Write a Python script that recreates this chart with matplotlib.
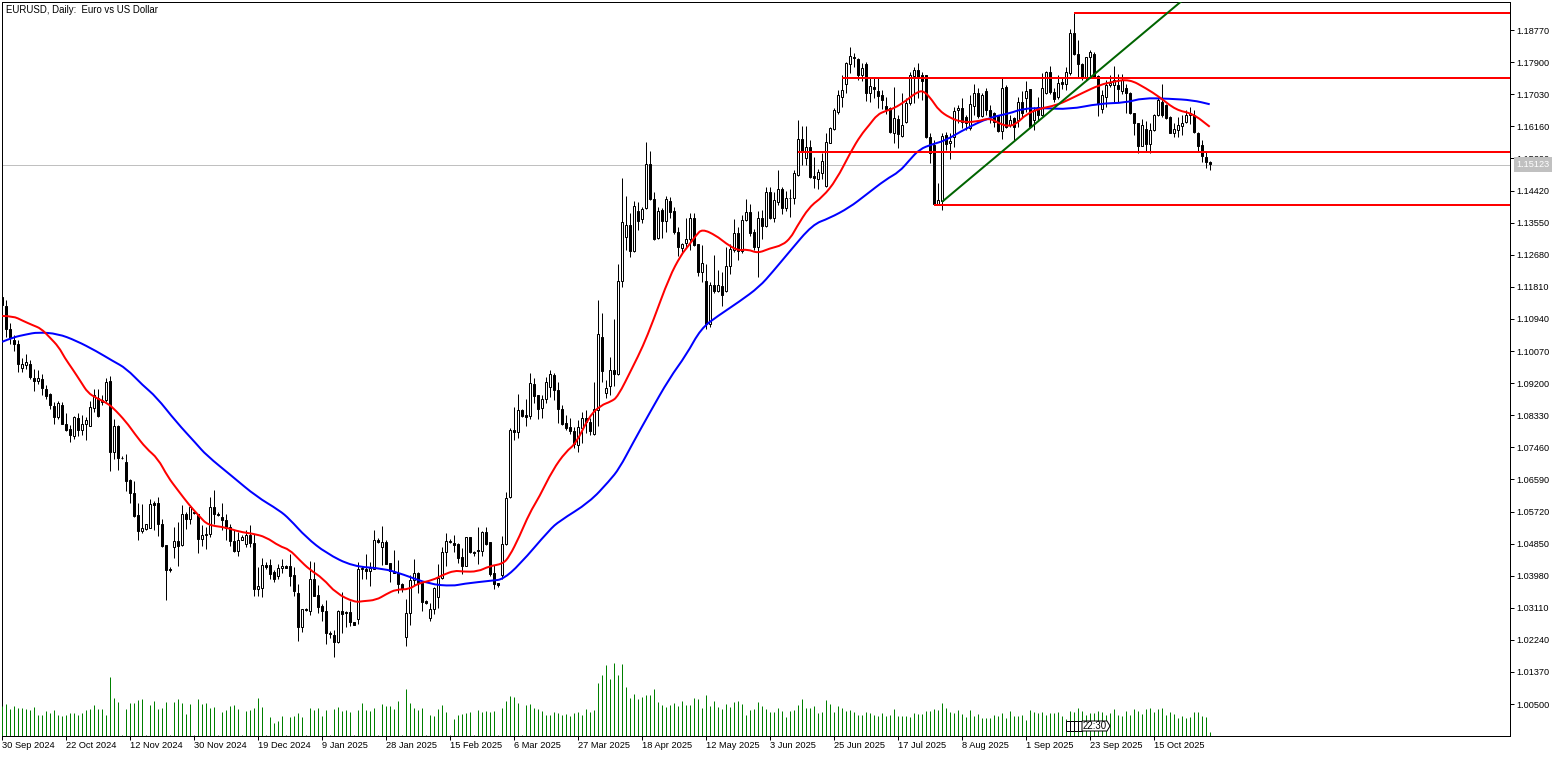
"""
Daily EURUSD candle chart with two moving averages, levels and tick volume.
"""

import numpy as np
import matplotlib
matplotlib.use('Agg')
import matplotlib.pyplot as plt
from matplotlib.patches import PathPatch, Polygon, Rectangle
from matplotlib.path import Path

# Prices are kept in 1/10000 units
opens = [
    11154,11129,11066,11038,11027,10961,10969,10973,10935,10926,
    10931,10904,10890,10857,10828,10860,10810,10795,10777,10825,
    10792,10810,10804,10853,10881,10870,10874,10925,10734,10803,
    10716,10705,10657,10621,10562,10519,10524,10528,10594,10594,
    10538,10480,10416,10476,10491,10481,10564,10552,10571,10565,
    10498,10507,10512,10583,10566,10556,10550,10530,10491,10464,
    10496,10485,10508,10488,10362,10366,10428,10426,10407,10398,
    10420,10425,10424,10399,10352,10260,10307,10301,10389,10345,
    10316,10302,10244,10237,10217,10302,10300,10300,10273,10280,
    10415,10417,10412,10417,10495,10477,10490,10432,10408,10404,
    10376,10231,10296,10385,10404,10379,10329,10282,10307,10339,
    10391,10461,10489,10486,10484,10449,10425,10504,10462,10468,
    10464,10517,10489,10404,10377,10400,10483,10610,10793,10787,
    10847,10834,10832,10918,10887,10852,10877,10910,10942,10901,
    10849,10811,10801,10790,10751,10798,10825,10816,10782,10847,
    11044,10892,10913,10955,10944,11196,11315,11350,11279,11386,
    11364,11395,11513,11418,11314,11389,11360,11413,11386,11329,
    11287,11301,11312,11367,11296,11220,11197,11079,11186,11170,
    11183,11170,11237,11281,11326,11279,11362,11384,11329,11290,
    11367,11346,11437,11368,11412,11445,11395,11421,11422,11484,
    11581,11530,11560,11481,11473,11489,11454,11570,11608,11654,
    11695,11730,11784,11803,11798,11755,11784,11706,11722,11711,
    11700,11671,11665,11597,11635,11589,11627,11679,11752,11768,
    11755,11755,11587,11565,11405,11413,11592,11570,11587,11660,
    11665,11641,11611,11671,11706,11644,11711,11660,11652,11646,
    11603,11722,11619,11638,11633,11681,11692,11717,11633,11668,
    11646,11707,11764,11708,11696,11736,11732,11761,11868,11811,
    11786,11746,11803,11812,11752,11664,11696,11728,11728,11728,
    11712,11719,11707,11651,11624,11563,11610,11568,11606,11646,
    11682,11673,11642,11598,11607,11616,11628,11646,11646,11599,
    11565,11533,11520,
]
closes = [
    11131,11068,11041,11027,10973,10971,10977,10937,10926,10935,
    10907,10885,10861,10828,10865,10810,10792,10779,10828,10792,
    10810,10819,10854,10887,10831,10874,10924,10734,10803,10717,
    10718,10655,10621,10559,10519,10526,10539,10592,10590,10538,
    10479,10413,10413,10491,10479,10564,10552,10583,10569,10498,
    10507,10512,10583,10564,10563,10549,10526,10492,10464,10496,
    10502,10507,10487,10363,10369,10428,10422,10402,10388,10420,
    10425,10420,10398,10357,10259,10307,10304,10389,10344,10314,
    10301,10244,10240,10217,10302,10295,10296,10273,10265,10416,
    10419,10412,10418,10494,10489,10489,10430,10410,10406,10375,
    10361,10296,10386,10404,10379,10328,10325,10307,10364,10391,
    10462,10491,10491,10482,10447,10425,10502,10461,10459,10464,
    10517,10484,10402,10375,10374,10484,10609,10793,10787,10847,
    10831,10829,10920,10886,10851,10876,10922,10944,10901,10849,
    10809,10799,10790,10755,10800,10825,10816,10790,10849,11053,
    10954,10908,10955,10946,11196,11358,11350,11279,11399,11360,
    11391,11513,11419,11311,11386,11360,11418,11383,11329,11288,
    11296,11312,11367,11294,11222,11247,11080,11185,11170,11186,
    11160,11237,11284,11326,11279,11362,11383,11326,11288,11367,
    11346,11437,11369,11416,11445,11394,11421,11422,11489,11581,
    11546,11560,11478,11476,11492,11522,11573,11611,11660,11700,
    11714,11787,11806,11801,11755,11774,11706,11725,11717,11698,
    11687,11662,11600,11638,11595,11619,11679,11755,11768,11747,
    11738,11587,11543,11405,11416,11589,11568,11576,11657,11665,
    11627,11625,11676,11706,11644,11700,11660,11644,11627,11603,
    11720,11614,11633,11614,11681,11652,11711,11614,11660,11646,
    11719,11764,11708,11691,11734,11732,11764,11868,11813,11786,
    11746,11803,11818,11750,11678,11700,11728,11734,11741,11716,
    11741,11707,11653,11624,11563,11619,11568,11607,11648,11687,
    11646,11640,11598,11610,11620,11624,11646,11651,11601,11563,
    11535,11520,11513,
]
highs = [
    11156,11145,11082,11050,11036,10987,10998,10982,10957,10955,
    10946,10914,10892,10869,10872,10869,10838,10806,10830,10838,
    10833,10828,10872,10905,10905,10887,10935,10939,10824,10806,
    10722,10727,10661,10654,10595,10592,10539,10607,10601,10610,
    10553,10481,10422,10529,10544,10589,10571,10589,10574,10566,
    10535,10529,10612,10630,10571,10594,10566,10539,10521,10517,
    10508,10523,10535,10512,10422,10447,10435,10442,10413,10429,
    10444,10426,10456,10422,10375,10307,10310,10439,10436,10373,
    10320,10332,10248,10251,10305,10353,10301,10329,10273,10434,
    10423,10457,10436,10522,10499,10533,10495,10433,10468,10441,
    10377,10334,10401,10442,10407,10382,10332,10323,10368,10430,
    10477,10515,10497,10508,10486,10472,10504,10504,10466,10531,
    10520,10529,10490,10427,10378,10506,10626,10798,10856,10891,
    10850,10876,10947,10933,10888,10888,10936,10956,10947,10924,
    10861,10834,10825,10802,10820,10843,10847,10825,10924,11145,
    11109,10928,10992,11095,11242,11475,11427,11380,11414,11410,
    11398,11573,11548,11439,11398,11394,11427,11425,11398,11344,
    11299,11367,11382,11380,11297,11294,11242,11195,11267,11226,
    11220,11290,11296,11365,11344,11376,11418,11405,11339,11386,
    11389,11452,11452,11439,11498,11452,11441,11445,11499,11633,
    11617,11617,11579,11533,11500,11543,11597,11614,11665,11714,
    11755,11790,11831,11814,11801,11787,11790,11747,11747,11749,
    11714,11695,11668,11722,11646,11706,11692,11763,11776,11787,
    11763,11755,11597,11579,11462,11597,11600,11597,11668,11673,
    11692,11646,11700,11730,11720,11706,11720,11673,11654,11646,
    11747,11728,11646,11641,11695,11711,11738,11717,11668,11695,
    11761,11766,11779,11719,11755,11746,11777,11881,11922,11850,
    11788,11803,11822,11818,11755,11714,11743,11755,11779,11759,
    11759,11732,11709,11653,11625,11637,11631,11625,11649,11696,
    11730,11678,11644,11625,11642,11646,11660,11669,11660,11601,
    11578,11547,11522,
]
lows = [
    11129,11045,11027,11007,10950,10950,10957,10932,10899,10919,
    10887,10878,10851,10810,10822,10809,10791,10760,10768,10776,
    10779,10765,10804,10842,10829,10860,10869,10682,10713,10684,
    10713,10628,10594,10556,10494,10514,10523,10526,10521,10505,
    10476,10333,10407,10447,10424,10479,10524,10539,10566,10460,
    10478,10471,10503,10539,10559,10521,10496,10479,10463,10452,
    10494,10476,10476,10343,10343,10341,10417,10390,10381,10390,
    10404,10418,10370,10343,10221,10246,10302,10292,10342,10296,
    10275,10212,10230,10177,10215,10242,10260,10263,10264,10266,
    10388,10388,10370,10415,10486,10427,10429,10382,10404,10350,
    10355,10208,10264,10373,10350,10301,10321,10276,10294,10311,
    10388,10423,10486,10461,10432,10402,10423,10459,10452,10430,
    10452,10480,10397,10361,10368,10388,10481,10609,10766,10770,
    10829,10804,10823,10865,10822,10826,10865,10883,10874,10813,
    10807,10793,10781,10743,10732,10757,10784,10779,10779,10804,
    10924,10879,10888,10912,10942,11181,11281,11263,11276,11335,
    11355,11392,11416,11308,11311,11314,11329,11369,11324,11264,
    11273,11288,11281,11292,11210,11195,11067,11073,11163,11166,
    11130,11168,11216,11276,11255,11273,11360,11319,11281,11208,
    11312,11344,11364,11357,11403,11378,11386,11371,11405,11481,
    11511,11511,11476,11448,11446,11473,11451,11570,11606,11649,
    11668,11706,11760,11776,11741,11738,11684,11681,11692,11665,
    11662,11649,11597,11570,11557,11587,11625,11673,11679,11692,
    11687,11584,11516,11402,11405,11389,11552,11527,11559,11625,
    11611,11606,11606,11646,11638,11641,11646,11625,11614,11600,
    11581,11611,11614,11579,11614,11641,11654,11611,11606,11633,
    11644,11705,11705,11682,11691,11716,11714,11755,11809,11750,
    11741,11741,11750,11746,11644,11651,11669,11723,11682,11682,
    11705,11651,11649,11592,11544,11562,11547,11544,11603,11644,
    11642,11637,11597,11586,11588,11592,11625,11622,11598,11547,
    11520,11503,11497,
]
volumes = [
    30,32,27,30,28,28,27,26,29,21,21,
    25,23,26,21,20,21,23,23,21,23,
    26,27,31,27,27,21,59,38,34,1,
    27,33,33,36,37,1,31,35,27,28,
    34,1,34,37,33,22,32,1,37,32,
    33,28,29,1,24,26,30,31,27,1,
    25,26,28,38,29,1,19,13,15,20,
    1,19,20,23,19,1,28,26,28,20,
    26,1,27,29,25,26,24,1,26,33,
    26,25,28,1,32,30,30,27,35,1,
    47,33,28,26,28,1,21,20,27,31,
    24,1,17,21,22,23,24,1,26,24,
    25,24,25,1,28,35,40,39,33,1,
    31,32,28,27,25,21,21,24,23,21,
    22,20,23,24,21,27,24,26,53,61,
    71,57,73,61,72,49,38,42,37,39,
    41,41,47,34,31,29,31,33,30,35,
    31,31,38,37,28,41,30,35,29,27,
    32,29,34,35,32,21,26,27,34,30,
    27,24,24,28,25,19,25,26,31,37,
    28,28,30,23,24,36,32,24,30,28,
    25,26,24,21,21,24,23,21,20,23,
    20,21,27,20,20,20,19,23,22,22,
    25,25,27,26,33,28,24,23,26,22,
    19,26,20,22,18,18,18,21,20,23,
    18,25,20,20,21,16,26,24,23,24,
    21,23,23,24,20,17,25,24,28,25,
    21,23,23,25,24,21,23,27,21,20,
    25,21,27,25,22,27,28,24,27,28,
    21,24,22,18,20,18,19,24,24,20,
    19,4,
]

# Moving averages read at the bars where the curve bends
fast_ma_bars = [
    0.1,2.8,5.25,7.75,9.8,11.9,14.25,15.7,17.75,19.8,
    21.5,23.6,26.1,27.75,31.1,33.2,36.1,39,41.5,44,
    46.9,49.4,51.5,56,59.4,62.75,66,69.4,71.9,74.4,
    76.9,80.25,83.6,88.2,90.25,93.6,96.1,98.6,101.9,104,
    107.75,110.25,113.2,115.25,119,121.9,125.25,126.9,129.4,131.9,
    134.4,137.75,141,143.6,146.9,149.8,152.3,154,157.75,160.25,
    162.75,166.9,169.8,171.5,173.6,175.1,178.6,181,184,186.5,
    189,191.9,195.2,197.3,198.6,201.9,205.25,208.6,212.25,214.75,
    216.9,218.9,221,223.1,226,228.9,230.6,232.6,234.25,236.9,
    239.8,243.6,246.9,249.4,251.5,253.6,256.1,259.4,263.6,266.9,
    270.25,274.4,277.75,281.9,286.1,289.4,293.6,297.75,302,
]
fast_ma = [
    11102,11102,11089,11077,11068,11045,11018,10989,10957,10923,
    10894,10880,10867,10854,10815,10783,10743,10716,10666,10630,
    10589,10559,10535,10529,10517,10512,10503,10478,10469,10441,
    10415,10391,10350,10326,10329,10332,10348,10361,10361,10377,
    10386,10400,10412,10409,10409,10424,10430,10450,10504,10567,
    10612,10685,10734,10757,10831,10860,10870,10883,10964,11019,
    11086,11208,11267,11290,11321,11338,11320,11299,11279,11283,
    11272,11285,11294,11315,11341,11398,11425,11470,11547,11592,
    11620,11648,11658,11665,11685,11710,11712,11687,11660,11640,
    11628,11628,11639,11624,11616,11622,11649,11664,11673,11689,
    11707,11728,11737,11744,11719,11696,11660,11651,11615,
]
slow_ma_bars = [
    0.1,2.75,6.1,9,14,18.6,23.6,27.75,31.1,35.25,
    38.6,43.6,48.6,51.1,57.75,63.6,69.4,71.9,76.1,81.1,
    87.75,95.25,100.25,106.9,112.75,115.25,122.75,125.25,129.4,136.9,
    139.4,146.9,151.9,154.4,157.75,161.9,166.9,171.1,174.8,179,
    184.4,189.4,192.75,196.9,202.7,206.9,211.9,216,221,224.4,
    226.9,229.4,232.75,236,241,246.9,251.9,255.25,260.25,266.9,
    274.4,281,285.25,291.9,297.75,302,
]
slow_ma = [
    11032,11044,11052,11058,11054,11035,11007,10980,10960,10914,
    10883,10815,10756,10725,10666,10613,10575,10552,10502,10459,
    10423,10418,10402,10375,10370,10376,10385,10388,10427,10522,
    10546,10597,10655,10689,10757,10838,10933,10996,11068,11102,
    11141,11181,11222,11276,11350,11367,11396,11430,11472,11493,
    11524,11554,11568,11578,11610,11640,11651,11664,11666,11662,
    11678,11680,11693,11691,11687,11676,
]

# Horizontal levels: bar where each one starts and its price
level_starts = [268, 210, 199, 233]
level_prices = [11924, 11747, 11546, 11403]
trend_bars = [235.25, 295]
trend_prices = [11413, 11956]
last_price = 1.15123

date_labels = ['30 Sep 2024', '22 Oct 2024', '12 Nov 2024', '30 Nov 2024', '19 Dec 2024',
               '9 Jan 2025', '28 Jan 2025', '15 Feb 2025', '6 Mar 2025', '27 Mar 2025',
               '18 Apr 2025', '12 May 2025', '3 Jun 2025', '25 Jun 2025', '17 Jul 2025',
               '8 Aug 2025', '1 Sep 2025', '23 Sep 2025', '15 Oct 2025']
price_labels = ['1.18770', '1.17900', '1.17030', '1.16160', '1.15290', '1.14420', '1.13550',
                '1.12680', '1.11810', '1.10940', '1.10070', '1.09200', '1.08330', '1.07460',
                '1.06590', '1.05720', '1.04850', '1.03980', '1.03110', '1.02240', '1.01370',
                '1.00500']

RED = '#FF0000'
BLUE = '#0000FF'
GREEN = '#008000'
DARK_GREEN = '#006400'
GRAY = '#C0C0C0'
PX = 0.72  # one pixel at dpi 100, in points


def draw_curve(ax, xs, ys, color):
    # Rounded path through the read points so the averages do not look faceted
    points = np.column_stack([xs, np.array(ys) / 10000])
    verts = [points[0]]
    codes = [Path.MOVETO]
    for k in range(1, len(points) - 1):
        verts += [points[k], (points[k] + points[k + 1]) / 2]
        codes += [Path.CURVE3, Path.CURVE3]
    verts.append(points[-1])
    codes.append(Path.LINETO)
    ax.add_patch(PathPatch(Path(verts, codes), facecolor='none', edgecolor=color,
                           linewidth=2 * PX, zorder=5))


plt.rcParams['font.family'] = ['Liberation Sans', 'DejaVu Sans']

W, H = 1563, 757
fig = plt.figure(figsize=(W / 100, H / 100), dpi=100, facecolor='white')
ax = fig.add_axes([1.5 / W, (H - 736.1) / H, 1508 / W, 734 / H])

o = np.array(opens) / 10000
c = np.array(closes) / 10000
h = np.array(highs) / 10000
l = np.array(lows) / 10000
bars = np.arange(len(o))

# Candles: wick first, then the body on top of it
ax.vlines(bars, l, h, color='black', linewidth=PX, zorder=2)
up = c >= o
ax.bar(bars[up], np.maximum((c - o)[up], 0.0002), bottom=o[up], width=0.5, facecolor='white',
       edgecolor='black', linewidth=PX, zorder=3)
ax.bar(bars[~up], np.maximum((o - c)[~up], 0.0002), bottom=c[~up], width=0.5, facecolor='black',
       edgecolor='black', linewidth=PX, zorder=3)

# Last price line
ax.axhline(last_price, color=GRAY, linewidth=PX, zorder=1)

# Moving averages
draw_curve(ax, slow_ma_bars, slow_ma, BLUE)
draw_curve(ax, fast_ma_bars, fast_ma, RED)

# Levels and trend line
x_min, x_max = -0.075, 376.95
for start, price in zip(level_starts, level_prices):
    ax.hlines(price / 10000, start, x_max, color=RED, linewidth=2 * PX, zorder=6)
ax.plot(trend_bars, np.array(trend_prices) / 10000, color=DARK_GREEN, linewidth=2 * PX, zorder=6)

ax.set_xlim(x_min, x_max)
ax.set_ylim(0.99632, 1.19529)

ax.set_xticks(np.arange(len(date_labels)) * 16)
ax.set_xticklabels(date_labels, ha='left', fontsize=6.7)
ax.yaxis.tick_right()
ax.set_yticks([float(p) for p in price_labels])
ax.set_yticklabels(price_labels, fontsize=6.6)
ax.tick_params(axis='x', length=3, width=PX, pad=0.8, color='black')
ax.tick_params(axis='y', length=3, width=PX, pad=2, color='black')
for spine in ax.spines.values():
    spine.set_linewidth(PX)

ax.text(5 / 1508, 1 - 7.5 / 734, 'EURUSD, Daily:  Euro vs US Dollar', transform=ax.transAxes,
        fontsize=6.9, ha='left', va='center', color='black')

# Last price tag over the tick labels
ax.text(1.0045, last_price, '1.15123', transform=ax.get_yaxis_transform(), fontsize=6.6,
        color='white', va='center', ha='left', zorder=20, clip_on=False,
        bbox=dict(facecolor=GRAY, edgecolor='none', boxstyle='square,pad=0.3'))

# Tick volume window, sitting on the bottom of the same frame
vol_ax = fig.add_axes(ax.get_position(), sharex=ax, zorder=3)
vol_ax.patch.set_visible(False)
vol_ax.axis('off')
vol_ax.vlines(bars, 0, volumes, color=GREEN, linewidth=PX)
vol_ax.set_ylim(0, 734)


# Small stacked time marker near the bottom
def fig_xy(x, y):
    return x / W, 1 - y / H


for x0 in [1066, 1070, 1074, 1078]:
    (x1, y1), (x2, y2) = fig_xy(x0, 731), fig_xy(x0 + 4, 721)
    fig.add_artist(Rectangle((x1, y1), x2 - x1, y2 - y1, transform=fig.transFigure, facecolor='white',
                             edgecolor='black', linewidth=PX, zorder=10))
tag = [fig_xy(1082, 721), fig_xy(1107, 721), fig_xy(1110, 726), fig_xy(1107, 731), fig_xy(1082, 731)]
fig.add_artist(Polygon(tag, closed=True, transform=fig.transFigure, facecolor='white', edgecolor='black',
                       linewidth=PX, zorder=10))
tx, ty = fig_xy(1095, 726)
fig.text(tx, ty, '22:30', fontsize=6.9, ha='center', va='center', color='black', zorder=11)

fig.savefig('out.png', dpi=100)
plt.close(fig)
